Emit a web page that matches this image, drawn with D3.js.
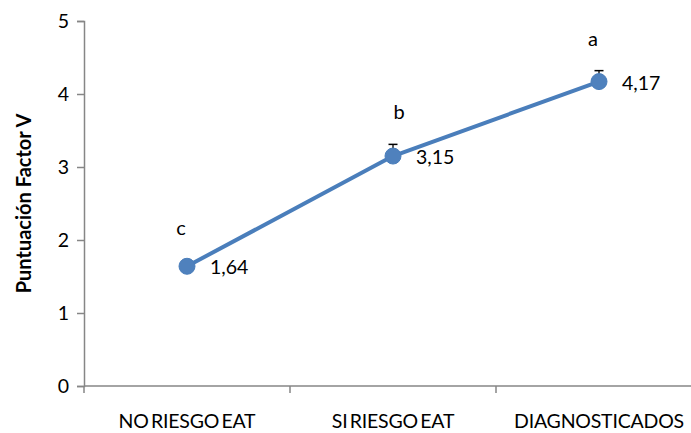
<!DOCTYPE html>
<html>
<head>
<meta charset="utf-8">
<script src="https://cdn.jsdelivr.net/npm/d3@7"></script>
<style>
  html, body { margin: 0; padding: 0; background: #fff; }
  svg { display: block; font-family: Lato, "Liberation Sans", sans-serif; }
</style>
</head>
<body>
<svg id="chart" width="691" height="433"></svg>
<script>
// Group scores for factor V
const categories = ["NO RIESGO EAT", "SI RIESGO EAT", "DIAGNOSTICADOS"];
const values = [1.64, 3.15, 4.17];
const errors = [0.08, 0.16, 0.15];
const letters = ["c", "b", "a"];
const valueLabels = ["1,64", "3,15", "4,17"];
const yTicks = [0, 1, 2, 3, 4, 5];

const points = categories.map((c, i) => ({
  cat: c, v: values[i], err: errors[i], letter: letters[i], label: valueLabels[i], i
}));

const svg = d3.select("#chart");
const margin = { left: 84, top: 21, bottom: 47 };
const plotRight = 702;
const H = 433;

const x = d3.scaleBand().domain(categories).range([margin.left, plotRight]);
const y = d3.scaleLinear().domain([0, 5]).range([H - margin.bottom, margin.top]);
const cx = d => x(d.cat) + x.bandwidth() / 2;

const axisColor = "#868686";

// Y axis
const yAxis = svg.append("g")
  .attr("transform", `translate(${margin.left},0)`)
  .call(d3.axisLeft(y).tickValues(yTicks).tickSize(7).tickPadding(8).tickFormat(d3.format("d")));
yAxis.select(".domain").attr("stroke", axisColor).attr("stroke-width", 1.5);
yAxis.selectAll(".tick line").attr("stroke", axisColor).attr("stroke-width", 1.5);
yAxis.selectAll(".tick text").attr("font-size", 19.5).attr("fill", "#000")
  .attr("font-family", "Lato, sans-serif");

// X axis with boundary ticks between categories
const xAxis = svg.append("g").attr("transform", `translate(0,${y(0)})`);
xAxis.append("line")
  .attr("x1", margin.left).attr("x2", plotRight)
  .attr("stroke", axisColor).attr("stroke-width", 1.5);
xAxis.selectAll("line.bound")
  .data(categories)
  .join("line")
  .attr("class", "bound")
  .attr("x1", d => x(d)).attr("x2", d => x(d))
  .attr("y1", 0).attr("y2", 7)
  .attr("stroke", axisColor).attr("stroke-width", 1.5);
xAxis.selectAll("text")
  .data(categories)
  .join("text")
  .attr("x", d => x(d) + x.bandwidth() / 2)
  .attr("y", 42)
  .attr("text-anchor", "middle")
  .attr("font-size", 19.5)
  .attr("letter-spacing", "-0.2")
  .attr("word-spacing", "-2.5")
  .attr("fill", "#000")
  .text(d => d);

// Y axis title
svg.append("text")
  .attr("transform", `translate(31,${(y(0) + y(5)) / 2}) rotate(-90)`)
  .attr("text-anchor", "middle")
  .attr("font-size", 20)
  .attr("font-weight", "bold")
  .attr("fill", "#000")
  .text("Puntuación Factor V");

const blue = "#4A7EBB";

// Error bars (upper only)
const eb = svg.append("g");
eb.selectAll("line.stem")
  .data(points).join("line").attr("class", "stem")
  .attr("x1", cx).attr("x2", cx)
  .attr("y1", d => y(d.v)).attr("y2", d => y(d.v + d.err))
  .attr("stroke", "#000").attr("stroke-width", 1.3);
eb.selectAll("line.cap")
  .data(points).join("line").attr("class", "cap")
  .attr("x1", d => cx(d) - 4.5).attr("x2", d => cx(d) + 4.5)
  .attr("y1", d => y(d.v + d.err)).attr("y2", d => y(d.v + d.err))
  .attr("stroke", "#000").attr("stroke-width", 1.5);

// Series line
svg.append("path")
  .datum(points)
  .attr("fill", "none")
  .attr("stroke", blue)
  .attr("stroke-width", 4)
  .attr("stroke-linejoin", "round")
  .attr("d", d3.line().x(cx).y(d => y(d.v)));

// Markers
svg.selectAll("circle.pt")
  .data(points).join("circle").attr("class", "pt")
  .attr("cx", cx).attr("cy", d => y(d.v))
  .attr("r", 8)
  .attr("fill", "#4F81BD")
  .attr("stroke", blue).attr("stroke-width", 1);

// Value labels
svg.selectAll("text.val")
  .data(points).join("text").attr("class", "val")
  .attr("x", d => cx(d) + 23)
  .attr("y", d => y(d.v) + 8)
  .attr("font-size", 19.5)
  .attr("fill", "#000")
  .text(d => d.label);

// Significance letters, set above each error bar
const letterShift = [-6, 6, -6];
svg.selectAll("text.letter")
  .data(points).join("text").attr("class", "letter")
  .attr("x", d => cx(d) + letterShift[d.i])
  .attr("y", d => y(d.v + d.err) - 25)
  .attr("text-anchor", "middle")
  .attr("font-size", 20)
  .attr("fill", "#000")
  .text(d => d.letter);
</script>
</body>
</html>
